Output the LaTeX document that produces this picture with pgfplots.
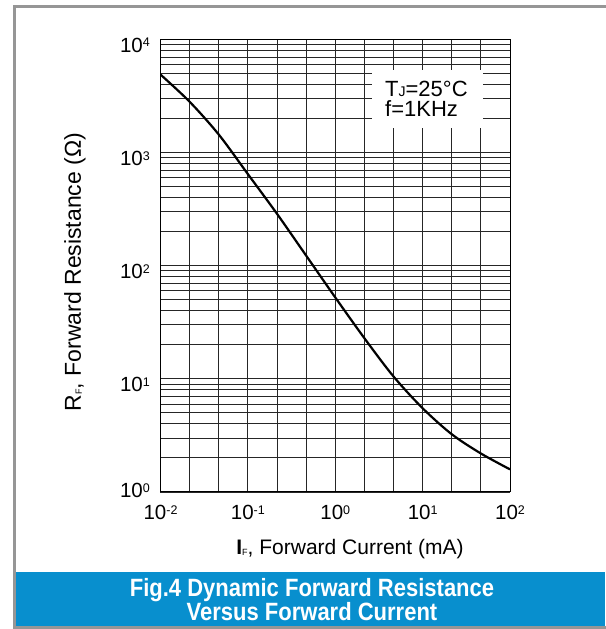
\documentclass[border=0pt]{standalone}
\usepackage{pgfplots}
\pgfplotsset{compat=1.18}
\usepackage{fontspec}
\setmainfont{Liberation Sans}
\newfontfamily\bannerfont[FakeStretch=0.88]{Liberation Sans}
\definecolor{banner}{RGB}{8,143,206}
\definecolor{framegray}{RGB}{150,150,150}
% 10^x tick label in text font
\newcommand{\pw}[1]{10\raisebox{5.5pt}{\fontsize{12.5}{12.5}\selectfont #1}}
\newcommand{\sub}[1]{\raisebox{-1pt}{\fontsize{9}{9}\selectfont #1}}

\begin{document}
\begin{tikzpicture}[x=1pt,y=1pt]
\path[use as bounding box] (0,0) rectangle (605,629);
\fill[white] (0,0) rectangle (605,629);
\draw[framegray, line width=3pt] (14.5,1.5) rectangle (640,622.5);
\fill[banner] (16,3) rectangle (605,57);
\node[white, align=center, font=\bannerfont\bfseries\fontsize{25}{24}\selectfont] at (312,29)
  {Fig.4 Dynamic Forward Resistance\\Versus Forward Current};

\begin{axis}[
  at={(160.5pt,137pt)}, anchor=south west,
  scale only axis, width=349.5pt, height=452.5pt,
  xmode=log, ymode=log,
  xmin=0.01, xmax=100, ymin=1, ymax=10000,
  xtick={0.01,0.1,1,10,100},
  xticklabels={\pw{-2},\pw{-1},\pw{0},\pw{1},\pw{2}},
  minor xtick={0.0215443,0.0464159,0.215443,0.464159,2.15443,4.64159,21.5443,46.4159},
  ytick={1,10,100,1000,10000},
  yticklabels={\raisebox{7pt}{\pw{0}},\pw{1},\pw{2},\pw{3},\pw{4}},
  grid=both,
  major grid style={black!85, line width=0.9pt},
  minor grid style={black!85, line width=0.9pt},
  axis line style={black, line width=1pt},
  major tick length=0pt, minor tick length=0pt,
  xticklabel style={anchor=base, inner sep=0pt, yshift=-28pt, font=\fontsize{20.5}{24}\selectfont},
  yticklabel style={anchor=base east, inner sep=0pt, xshift=-10.5pt, yshift=-13pt, font=\fontsize{20.5}{24}\selectfont},
]
\addplot[black, line width=2.2pt, smooth] coordinates {
  (0.01,4898) (0.02154,2818) (0.04642,1445) (0.1,646) (0.2154,288)
  (0.4642,123) (1,52.5) (2.154,22.9) (4.642,10.5) (10,5.50)
  (21.54,3.24) (46.42,2.19) (100,1.585)
};
\end{axis}

% condition box
\fill[white] (372,501) rectangle (483,559);
\node[anchor=base west, inner sep=0pt, font=\fontsize{22}{24}\selectfont] at (385,532)
  {T{\fontsize{14}{14}\selectfont J}=25°C};
\node[anchor=base west, inner sep=0pt, font=\fontsize{22}{24}\selectfont] at (385,512)
  {f=1KHz};

\node[rotate=90, font=\fontsize{23}{26}\selectfont] at (75,357)
  {R\sub{F}, Forward Resistance (Ω)};
\node[font=\fontsize{21}{24}\selectfont] at (350,79.5)
  {\textbf{I}\sub{F}, Forward Current (mA)};
\end{tikzpicture}
\end{document}
